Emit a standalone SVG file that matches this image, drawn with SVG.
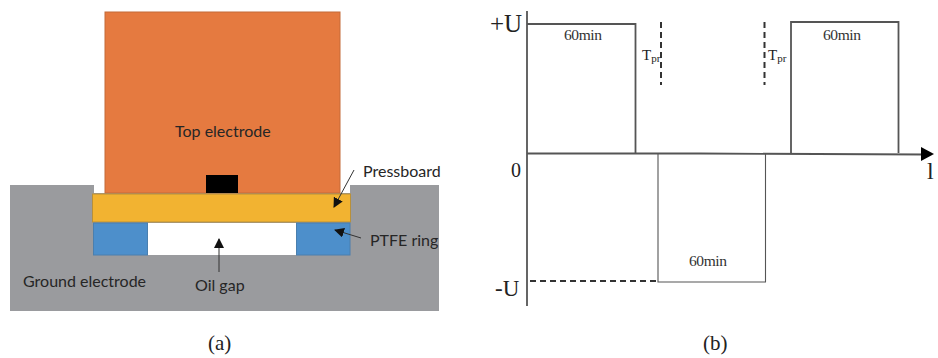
<svg xmlns="http://www.w3.org/2000/svg" width="938" height="358" viewBox="0 0 938 358">
<style>
.s{font-family:"Lato","Open Sans",sans-serif;font-size:16px;fill:#262626}
.t{font-family:"Liberation Serif",serif;fill:#222}
.m{font-size:15.500px;letter-spacing:-.4px;fill:#333}
.w{fill:none;stroke:#555;stroke-width:1.8}
.a{fill:none;stroke:#555;stroke-width:1.1}
.d{fill:none;stroke:#333;stroke-width:2;stroke-dasharray:6 4}
</style>
<defs>
<marker id="ah" viewBox="0 0 10 10" refX="9" refY="5" markerWidth="10" markerHeight="10" markerUnits="userSpaceOnUse" orient="auto"><path d="M0 0L10 5L0 10Z" fill="#111"/></marker>
</defs>
<rect width="938" height="358" fill="#fff"/>
<g id="ground-electrode"><path d="M10 185H94V193H350V185H439V311H10Z" fill="#9a9b9e"/><text class="s" x="23" y="287">Ground electrode</text></g>
<g id="top-electrode"><rect x="105" y="12" width="235" height="181" fill="#e57a40" stroke="#c46a38"/><text class="s" x="175" y="137">Top electrode</text></g>
<g id="sensor"><rect x="206" y="175" width="32" height="18" fill="#000"/></g>
<g id="pressboard"><rect x="92.500" y="194" width="258" height="28" fill="#f2b331" stroke="#b8903a"/><text class="s" x="363" y="177">Pressboard</text></g>
<g id="oil-gap"><rect x="147" y="223" width="149" height="32" fill="#fff"/><text class="s" x="195" y="291">Oil gap</text></g>
<g id="ptfe-left"><rect x="93.500" y="223" width="54" height="32" fill="#4d8fcb" stroke="#4a7fae"/></g>
<g id="ptfe-right"><rect x="296.500" y="223" width="53.500" height="32" fill="#4d8fcb" stroke="#4a7fae"/><text class="s" x="370" y="246">PTFE ring</text></g>
<g id="connectors" fill="none" stroke="#333" stroke-width="1">
<path d="M354 170L334 207" marker-end="url(#ah)"/>
<path d="M361 238L335 230" marker-end="url(#ah)"/>
<path d="M219 272V239" marker-end="url(#ah)"/>
</g>
<g id="waveform">
<path class="w" d="M527 11V306"/>
<path class="w" d="M527 153.500H700L926 154.500"/>
<path d="M921 147L934 154L921 161Z" fill="#000"/>
<path class="w" d="M527 24H635.500V153"/>
<path class="w" d="M791 154V22H898.500V153"/>
<path class="a" d="M658 154V282H765.500V154"/>
<path class="d" d="M661 22V85"/>
<path class="d" d="M764.500 22V85"/>
<path class="d" d="M530 281H658" stroke-dasharray="9 5"/>
</g>
<g id="labels">
<text class="t" x="490" y="32" font-size="25">+U</text>
<text class="t" x="511" y="177" font-size="20">0</text>
<text class="t" x="495" y="296" font-size="23">-U</text>
<text class="t" x="927" y="179" font-size="24">l</text>
<text class="t m" x="564" y="40">60min</text>
<text class="t m" x="823" y="40">60min</text>
<text class="t m" x="689" y="266">60min</text>
<text class="t" x="642" y="60" font-size="15">T<tspan font-size="11" dy="2">pr</tspan></text>
<text class="t" x="768" y="60" font-size="15">T<tspan font-size="11" dy="2">pr</tspan></text>
<text class="t" x="208" y="350" font-size="21">(a)</text>
<text class="t" x="703" y="350" font-size="21">(b)</text>
</g>
</svg>
